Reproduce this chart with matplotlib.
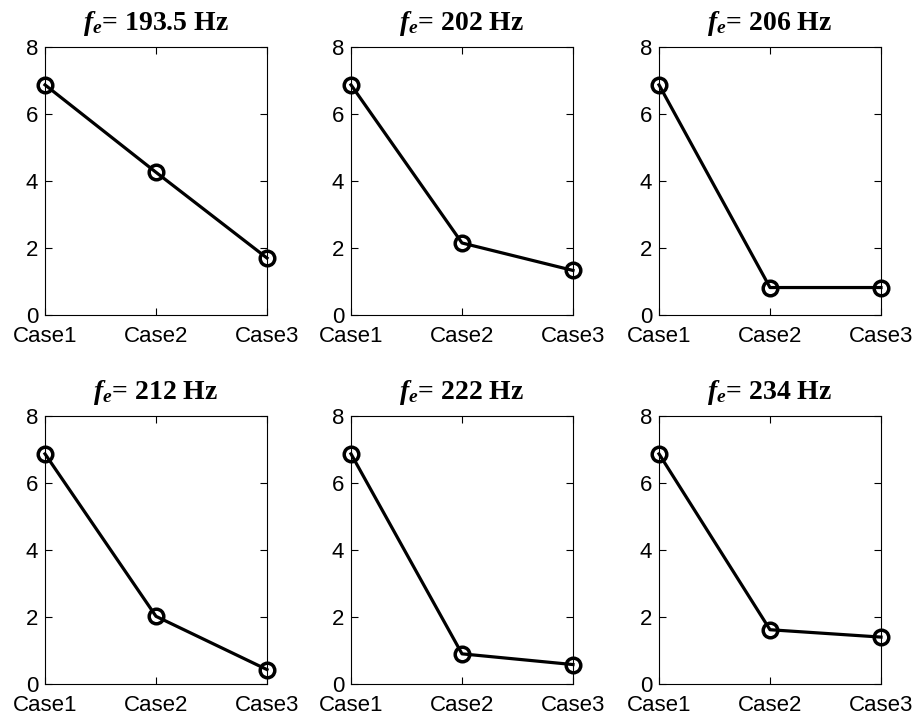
import matplotlib
matplotlib.use("Agg")
import matplotlib.pyplot as plt

cases = ["Case1", "Case2", "Case3"]
freqs = ["193.5", "202", "206", "212", "222", "234"]
vals_193 = [6.87, 4.26, 1.70]
vals_202 = [6.87, 2.15, 1.33]
vals_206 = [6.87, 0.82, 0.82]
vals_212 = [6.87, 2.02, 0.43]
vals_222 = [6.87, 0.90, 0.58]
vals_234 = [6.87, 1.62, 1.40]
series = [vals_193, vals_202, vals_206, vals_212, vals_222, vals_234]
yticks = [0, 2, 4, 6, 8]

plt.rcParams['mathtext.fontset'] = 'custom'
plt.rcParams['mathtext.rm'] = 'Liberation Serif:bold'
plt.rcParams['mathtext.it'] = 'Liberation Serif:bold:italic'
plt.rcParams['mathtext.bf'] = 'Liberation Serif:bold'

fig = plt.figure(figsize=(9.21, 7.19), dpi=100)
lefts = [45, 351, 659]
bottoms = [315, 684]
W, H = 222, 268
for i, (f, v) in enumerate(zip(freqs, series)):
    r, c = divmod(i, 3)
    ax = fig.add_axes([lefts[c] / 921, 1 - bottoms[r] / 719, W / 921, H / 719])
    x = list(range(len(cases)))
    ax.plot(x, v, color='black', lw=2.3, marker='o', ms=10.5, mfc='none',
            mec='black', mew=2.5, clip_on=False, zorder=3)
    ax.set_xlim(0, 2)
    ax.set_ylim(0, 8)
    ax.set_xticks(x)
    ax.set_xticklabels(cases)
    ax.set_yticks(yticks)
    ax.tick_params(direction='in', top=True, right=True, length=5, width=0.8,
                   labelsize=16)
    ax.tick_params(axis='x', pad=8)
    ax.tick_params(axis='y', pad=5)
    for lab in ax.get_xticklabels() + ax.get_yticklabels():
        lab.set_fontfamily('Liberation Sans')
    for s in ax.spines.values():
        s.set_linewidth(0.8)
    ax.set_title(r'$f_e$= ' + f + ' Hz', fontfamily='Liberation Serif',
                 fontweight='bold', fontsize=20, pad=12)

fig.savefig('out.png', dpi=100)
